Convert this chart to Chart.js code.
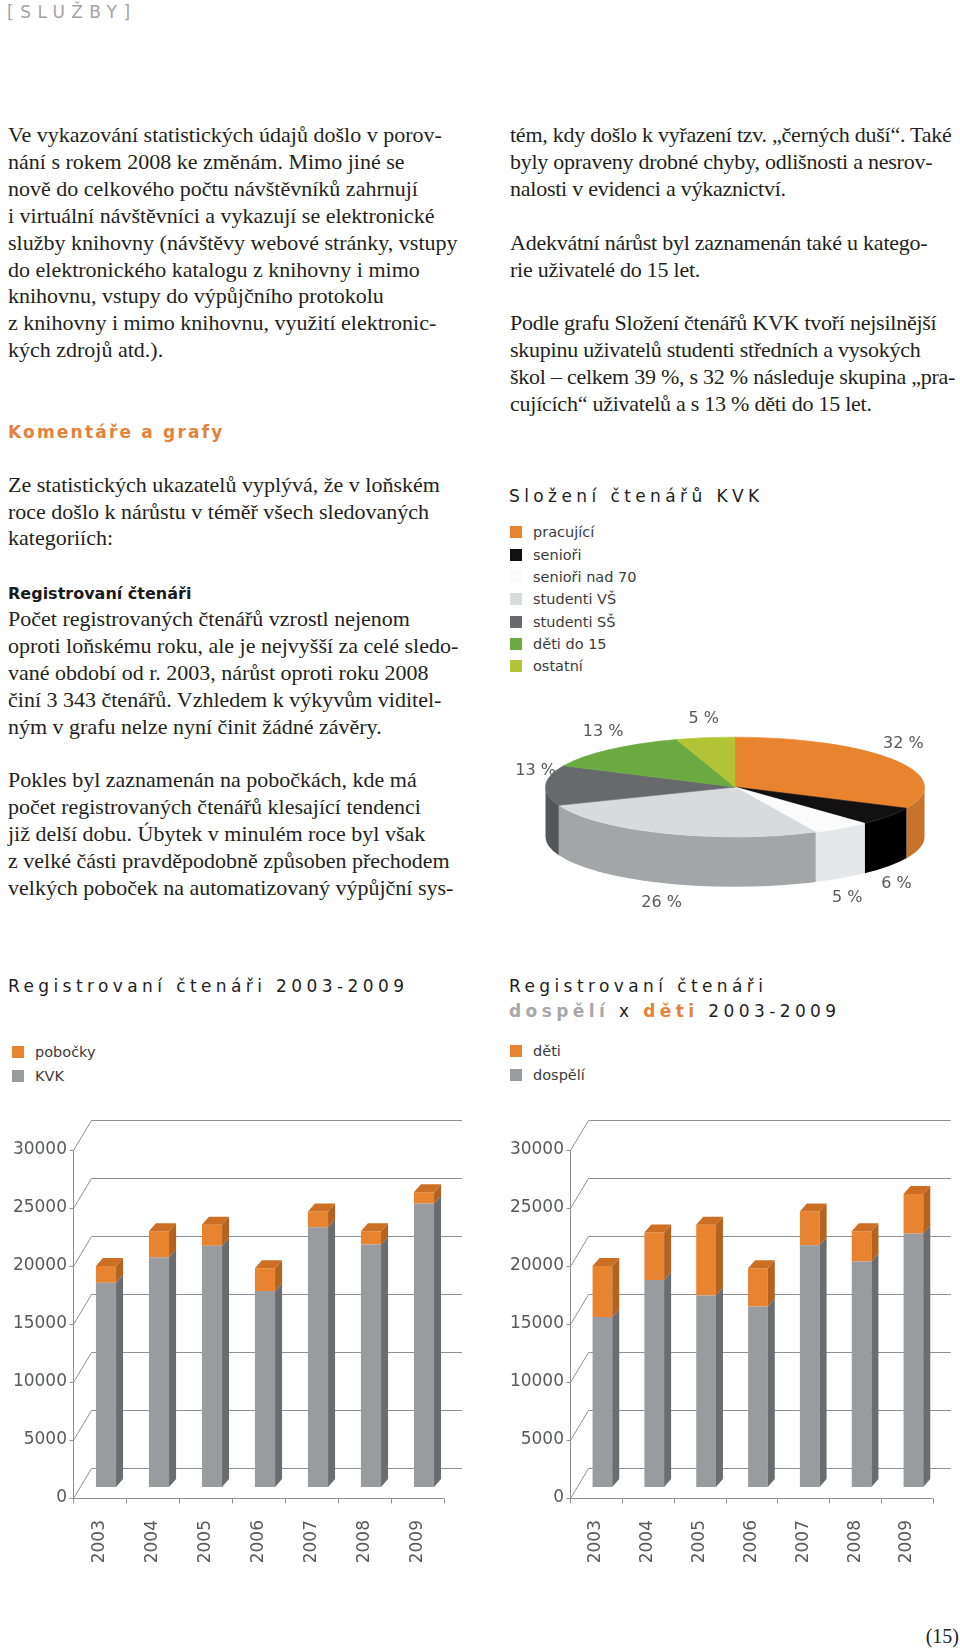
<!DOCTYPE html>
<html lang="cs">
<head>
<meta charset="utf-8">
<title>Služby – komentáře a grafy</title>
<script src="https://cdn.jsdelivr.net/npm/chart.js"></script>
<style>
  html, body { margin: 0; padding: 0; background: #fff; }
  body { width: 960px; height: 1652px; position: relative; overflow: hidden; color: #222; }
  .abs { position: absolute; }
  .hlavicka { left: 7px; top: 0; font: 17px "DejaVu Sans", sans-serif; color: #a3a3a3; letter-spacing: 6.5px; line-height: 24px; white-space: nowrap; }
  .sloupec { position: absolute; top: 122.1px; font: 22px "Liberation Serif", serif; letter-spacing: 0; line-height: 26.9px; color: #231f20; }
  .sloupec div { height: 26.9px; white-space: pre; }
  .nadpis-oranz { font: bold 17px "DejaVu Sans", sans-serif; color: #e5823a; letter-spacing: 2.2px; }
  .nadpis { font: bold 16px "DejaVu Sans", sans-serif; color: #1a1a1a; letter-spacing: 0; }
  .titulek { font: 17px "DejaVu Sans", sans-serif; letter-spacing: 4.4px; color: #1e1e1e; white-space: nowrap; line-height: 25px; }
  .titulek .sede { color: #a7a8aa; font-weight: bold; }
  .titulek .oranz { color: #e5823a; font-weight: bold; }
  .legenda { position: absolute; font: 14.5px "DejaVu Sans", sans-serif; color: #3a3a3a; }
  .legenda .polozka { display: flex; align-items: center; white-space: nowrap; }
  .legenda .ctverec { width: 12px; height: 12px; margin-right: 11px; flex: none; }
  .strana { right: 1px; top: 1623px; font: 20px "Liberation Serif", serif; line-height: 26px; }
  #obalKolac { left: 500px; top: 690px; width: 470px; height: 232px; overflow: hidden; }
</style>
</head>
<body>

<div class="abs hlavicka">[SLUŽBY]</div>

<div class="sloupec" style="left:8px">
<div>Ve vykazování statistických údajů došlo v porov-</div>
<div>nání s rokem 2008 ke změnám. Mimo jiné se</div>
<div>nově do celkového počtu návštěvníků zahrnují</div>
<div>i virtuální návštěvníci a vykazují se elektronické</div>
<div>služby knihovny (návštěvy webové stránky, vstupy</div>
<div>do elektronického katalogu z knihovny i mimo</div>
<div>knihovnu, vstupy do výpůjčního protokolu</div>
<div>z knihovny i mimo knihovnu, využití elektronic-</div>
<div>kých zdrojů atd.).</div>
<div></div>
<div></div>
<div><span class="nadpis-oranz">Komentáře a grafy</span></div>
<div></div>
<div>Ze statistických ukazatelů vyplývá, že v loňském</div>
<div>roce došlo k nárůstu v téměř všech sledovaných</div>
<div>kategoriích:</div>
<div></div>
<div><span class="nadpis">Registrovaní čtenáři</span></div>
<div>Počet registrovaných čtenářů vzrostl nejenom</div>
<div>oproti loňskému roku, ale je nejvyšší za celé sledo-</div>
<div>vané období od r. 2003, nárůst oproti roku 2008</div>
<div>činí 3 343 čtenářů. Vzhledem k výkyvům viditel-</div>
<div>ným v grafu nelze nyní činit žádné závěry.</div>
<div></div>
<div>Pokles byl zaznamenán na pobočkách, kde má</div>
<div>počet registrovaných čtenářů klesající tendenci</div>
<div>již delší dobu. Úbytek v minulém roce byl však</div>
<div>z velké části pravděpodobně způsoben přechodem</div>
<div>velkých poboček na automatizovaný výpůjční sys-</div>
</div>

<div class="sloupec" style="left:510px; letter-spacing:-0.25px">
<div>tém, kdy došlo k vyřazení tzv. „černých duší“. Také</div>
<div>byly opraveny drobné chyby, odlišnosti a nesrov-</div>
<div>nalosti v evidenci a výkaznictví.</div>
<div></div>
<div>Adekvátní nárůst byl zaznamenán také u katego-</div>
<div>rie uživatelé do 15 let.</div>
<div></div>
<div>Podle grafu Složení čtenářů KVK tvoří nejsilnější</div>
<div>skupinu uživatelů studenti středních a vysokých</div>
<div>škol – celkem 39 %, s 32 % následuje skupina „pra-</div>
<div>cujících“ uživatelů a s 13 % děti do 15 let.</div>
</div>

<div class="abs titulek" style="left:509px; top:483.6px">Složení čtenářů KVK</div>
<div class="legenda" id="legendaSlozeni" style="left:510px; top:521.3px"></div>
<div class="abs" id="obalKolac"><canvas id="grafSlozeni" width="470" height="470"></canvas></div>

<div class="abs titulek" style="left:8px; top:973.6px">Registrovaní čtenáři 2003-2009</div>
<div class="abs titulek" style="left:509px; top:973.6px">Registrovaní čtenáři<br><span class="sede">dospělí</span> x <span class="oranz">děti</span> 2003-2009</div>
<div class="legenda" id="legendaPobocky" style="left:12px; top:1040px"></div>
<div class="legenda" id="legendaDeti" style="left:510px; top:1039px"></div>

<canvas id="grafPobocky" class="abs" style="left:0; top:1100px" width="480" height="470"></canvas>
<canvas id="grafDeti" class="abs" style="left:490px; top:1100px" width="470" height="470"></canvas>

<div class="abs strana">(15)</div>

<script>
// Složení čtenářů KVK (v %)
const skupinyCtenaru = ['pracující', 'senioři', 'senioři nad 70', 'studenti VŠ', 'studenti SŠ', 'děti do 15', 'ostatní'];
const podilyCtenaru = [32, 6, 5, 26, 13, 13, 5];
const barvySkupin = ['#e8832e', '#111111', '#fbfbfb', '#d9dadc', '#68696d', '#6aaa40', '#b2c435'];
const barvyBokuSkupin = ['#c8732b', '#000000', '#e6e7e8', '#a4a5a8', '#55565a', '#548a30', '#8f9e2a'];

// Registrovaní čtenáři 2003–2009
const roky = ['2003', '2004', '2005', '2006', '2007', '2008', '2009'];
const ctenariKVK = [17600, 19800, 20800, 16900, 22400, 20900, 24450];
const ctenariPobocky = [1450, 2250, 1800, 1950, 1350, 1150, 950];
const ctenariDospeli = [14650, 17850, 16500, 15550, 20850, 19450, 21850];
const ctenariDeti = [4400, 4100, 6100, 3300, 2900, 2600, 3400];
const znackyOsyY = [0, 5000, 10000, 15000, 20000, 25000, 30000];

const SEDA = '#9a9b9f', SEDA_BOK = '#6b6c70', SEDA_VRCH = '#88898d';
const ORANZ = '#e8832f', ORANZ_BOK = '#b4621f', ORANZ_VRCH = '#cc6f24';

document.addEventListener('DOMContentLoaded', function() {
    vytvorLegendu('legendaSlozeni', skupinyCtenaru, barvySkupin, 22.3);
    vytvorLegendu('legendaPobocky', ['pobočky', 'KVK'], [ORANZ, SEDA], 24);
    vytvorLegendu('legendaDeti', ['děti', 'dospělí'], [ORANZ, SEDA], 24);

    vytvorKolac();
    vytvorSloupce('grafPobocky', ctenariKVK, ctenariPobocky, 79.5, 29.5);
    vytvorSloupce('grafDeti', ctenariDospeli, ctenariDeti, 86.5, 16.5);
});

function vytvorLegendu(id, popisky, barvy, rozestup) {
    const el = document.getElementById(id);
    popisky.forEach((text, i) => {
        const radek = document.createElement('div');
        radek.className = 'polozka';
        radek.style.height = rozestup + 'px';
        radek.innerHTML = '<span class="ctverec" style="background:' + barvy[i] + '"></span>' + text;
        el.appendChild(radek);
    });
}

// Koláč – horní plocha se zmáčkne do elipsy, boky se dokreslí
const kolac3d = {
    id: 'kolac3d',
    beforeDatasetsDraw(chart, args, o) {
        const ctx = chart.ctx;
        const oblouky = chart.getDatasetMeta(0).data;
        const { x, y, outerRadius } = oblouky[0].getProps(['x', 'y', 'outerRadius'], true);
        const ry = outerRadius * o.sklon;

        oblouky.forEach((oblouk, i) => {
            const { startAngle, endAngle } = oblouk.getProps(['startAngle', 'endAngle'], true);
            for (let n = -1; n <= 1; n++) {
                const od = Math.max(startAngle, n * 2 * Math.PI);
                const po = Math.min(endAngle, n * 2 * Math.PI + Math.PI);
                if (po <= od) continue;
                ctx.beginPath();
                ctx.ellipse(x, o.stredY, outerRadius, ry, 0, od, po, false);
                ctx.ellipse(x, o.stredY + o.hloubka, outerRadius, ry, 0, po, od, true);
                ctx.closePath();
                ctx.fillStyle = o.boky[i];
                ctx.fill();
            }
        });

        ctx.save();
        ctx.translate(0, o.stredY);
        ctx.scale(1, o.sklon);
        ctx.translate(0, -y);
    },
    afterDatasetsDraw(chart, args, o) {
        const ctx = chart.ctx;
        ctx.restore();

        // popisky procent kolem koláče
        const oblouky = chart.getDatasetMeta(0).data;
        const hodnoty = chart.data.datasets[0].data;
        ctx.save();
        ctx.font = '16px "DejaVu Sans", sans-serif';
        ctx.fillStyle = '#58595b';
        ctx.textAlign = 'center';
        ctx.textBaseline = 'middle';
        oblouky.forEach((oblouk, i) => {
            const { x, startAngle, endAngle, outerRadius } = oblouk.getProps(['x', 'startAngle', 'endAngle', 'outerRadius'], true);
            const stred = (startAngle + endAngle) / 2;
            const s = Math.sin(stred);
            const px = x + (outerRadius + 10) * Math.cos(stred);
            const py = o.stredY + (outerRadius * o.sklon + 5) * s + (s > 0 ? o.hloubka + 15 : -14);
            ctx.fillText(hodnoty[i] + ' %', px, py);
        });
        ctx.restore();
    }
};

function vytvorKolac() {
    new Chart(document.getElementById('grafSlozeni'), {
        type: 'pie',
        data: {
            labels: skupinyCtenaru,
            datasets: [{
                data: podilyCtenaru,
                backgroundColor: barvySkupin,
                borderColor: barvySkupin,
                borderWidth: 1,
                clip: false
            }]
        },
        options: {
            responsive: false,
            animation: false,
            devicePixelRatio: 1,
            events: [],
            layout: { padding: 45 },
            plugins: {
                legend: { display: false },
                tooltip: { enabled: false },
                kolac3d: { sklon: 50 / 190, hloubka: 50, stredY: 97, boky: barvyBokuSkupin }
            }
        },
        plugins: [kolac3d]
    });
}

// Sloupce – zadní stěna s mřížkou, boky a vršky kvádrů
const sloupce3d = {
    id: 'sloupce3d',
    beforeDatasetsDraw(chart, args, o) {
        const { ctx, chartArea: a, scales: { x: sx, y: sy } } = chart;
        const predL = a.left - o.rovina[0];
        const predP = a.right - o.rovina[0];
        const y0 = Math.round(sy.getPixelForValue(sy.min) + o.rovina[1]) + 0.5;
        const yMax = Math.round(sy.getPixelForValue(sy.max) + o.rovina[1]) + 0.5;
        const xl = Math.round(predL) + 0.5;

        ctx.save();
        ctx.strokeStyle = o.barvaMrizky;
        ctx.lineWidth = 1;
        ctx.beginPath();
        sy.ticks.forEach(t => {
            const yy = Math.round(sy.getPixelForValue(t.value) + o.rovina[1]) + 0.5;
            ctx.moveTo(xl - 4, yy);
            ctx.lineTo(xl, yy);
            ctx.lineTo(xl + o.stena[0], yy - o.stena[1]);
            ctx.lineTo(predP + o.stena[0], yy - o.stena[1]);
        });
        // přední osa Y a hrana podlahy
        ctx.moveTo(xl, yMax);
        ctx.lineTo(xl, y0);
        ctx.lineTo(predP, y0);
        const n = sx.ticks.length;
        for (let i = 0; i <= n; i++) {
            const bx = Math.round(predL + i * (a.width / n)) + 0.5;
            ctx.moveTo(bx, y0);
            ctx.lineTo(bx, y0 + 5);
        }
        ctx.stroke();
        ctx.restore();
    },
    afterDatasetsDraw(chart, args, o) {
        const ctx = chart.ctx;
        const [dx, dy] = o.hloubka;
        const posledni = chart.data.datasets.length - 1;
        ctx.save();
        chart.data.datasets.forEach((ds, d) => {
            chart.getDatasetMeta(d).data.forEach(bar => {
                const { x, y, base, width } = bar.getProps(['x', 'y', 'base', 'width'], true);
                const l = x - width / 2, r = x + width / 2;
                const horni = Math.min(y, base), dolni = Math.max(y, base);
                ctx.fillStyle = o.boky[d];
                ctx.beginPath();
                ctx.moveTo(r, dolni);
                ctx.lineTo(r, horni);
                ctx.lineTo(r + dx, horni - dy);
                ctx.lineTo(r + dx, dolni - dy);
                ctx.closePath();
                ctx.fill();
                if (d === posledni) {
                    ctx.fillStyle = o.vrsky[d];
                    ctx.beginPath();
                    ctx.moveTo(l, horni);
                    ctx.lineTo(l + dx, horni - dy);
                    ctx.lineTo(r + dx, horni - dy);
                    ctx.lineTo(r, horni);
                    ctx.closePath();
                    ctx.fill();
                }
            });
        });
        ctx.restore();
    }
};

function vytvorSloupce(id, spodni, horni, levyOkraj, pravyOkraj) {
    const pismo = { family: '"DejaVu Sans", sans-serif', size: 17 };
    new Chart(document.getElementById(id), {
        type: 'bar',
        data: {
            labels: roky,
            datasets: [
                { data: spodni, backgroundColor: SEDA, borderWidth: 0 },
                { data: horni, backgroundColor: ORANZ, borderWidth: 0 }
            ]
        },
        options: {
            responsive: false,
            animation: false,
            devicePixelRatio: 1,
            events: [],
            layout: { padding: { top: 39, right: pravyOkraj, left: 0, bottom: 0 } },
            datasets: { bar: { barPercentage: 0.38, categoryPercentage: 1 } },
            scales: {
                x: {
                    stacked: true,
                    grid: { display: false },
                    border: { display: false },
                    ticks: { minRotation: 90, maxRotation: 90, padding: 25, labelOffset: -6.5, color: '#58595b', font: pismo },
                    afterFit: s => { s.height = 83; }
                },
                y: {
                    stacked: true,
                    min: znackyOsyY[0],
                    max: znackyOsyY[znackyOsyY.length - 1],
                    grid: { display: false },
                    border: { display: false },
                    afterBuildTicks: s => { s.ticks = znackyOsyY.map(v => ({ value: v })); },
                    ticks: { padding: 4.5, labelOffset: 11, color: '#58595b', font: pismo, callback: v => String(v) },
                    afterFit: s => { s.width = levyOkraj; }
                }
            },
            plugins: {
                legend: { display: false },
                tooltip: { enabled: false },
                sloupce3d: {
                    rovina: [6.5, 11],
                    stena: [18, 30],
                    hloubka: [7, 8],
                    barvaMrizky: '#8f9093',
                    boky: [SEDA_BOK, ORANZ_BOK],
                    vrsky: [SEDA_VRCH, ORANZ_VRCH]
                }
            }
        },
        plugins: [sloupce3d]
    });
}
</script>
</body>
</html>
